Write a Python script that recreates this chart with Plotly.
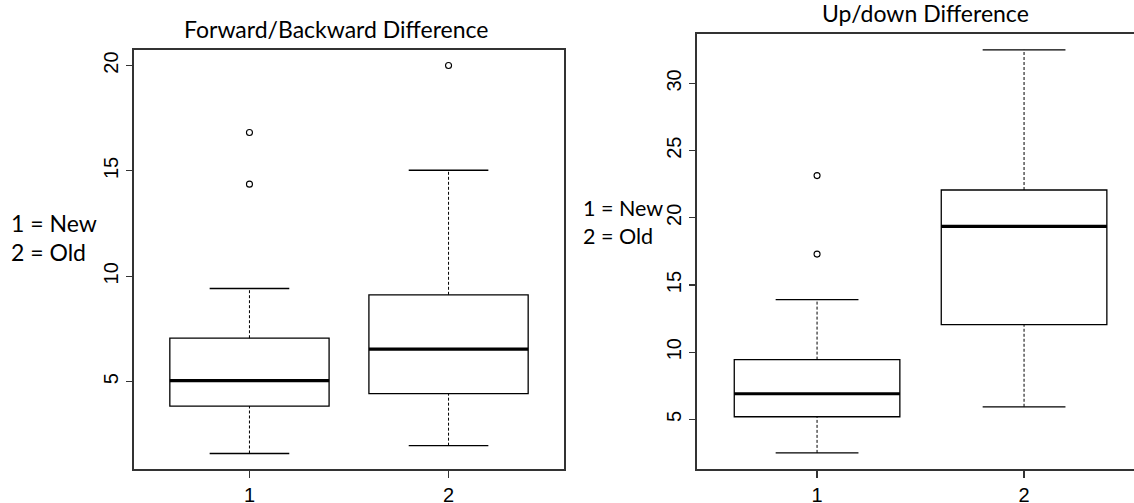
import plotly.graph_objects as go

# ---------------- data ----------------
groups = [1, 2]
group_labels = ["1", "2"]

# Forward/Backward Difference
fb_lower_whisker = [1.59, 1.96]
fb_q1 = [3.84, 4.43]
fb_median = [5.05, 6.54]
fb_q3 = [7.06, 9.12]
fb_upper_whisker = [9.42, 15.03]
fb_outlier_group = [1, 1, 2]
fb_outlier_value = [14.37, 16.82, 20.0]

# Up/down Difference
ud_lower_whisker = [2.51, 5.94]
ud_q1 = [5.2, 12.06]
ud_median = [6.91, 19.36]
ud_q3 = [9.45, 22.07]
ud_upper_whisker = [13.92, 32.5]
ud_outlier_group = [1, 1]
ud_outlier_value = [17.3, 23.14]

fb_ticks = [5, 10, 15, 20]
ud_ticks = [5, 10, 15, 20, 25, 30]

titles = ["Forward/Backward Difference", "Up/down Difference"]
legend_lines = ["1 = New", "2 = Old"]

# ---------------- style ----------------
BOX_W = 0.8
CAP_W = 0.4
FRAME = "#333333"
W, H = 1134, 503


def px(v):
    return v / W


def py(v):
    return 1 - v / H


fig = go.Figure()


def add_panel(sfx, lw, q1, med, q3, uw, ox, oy):
    xa = "x" + sfx
    ya = "y" + sfx
    for i, g in enumerate(groups):
        fig.add_trace(go.Box(
            x=[g], q1=[q1[i]], median=[med[i]], q3=[q3[i]],
            lowerfence=[q1[i]], upperfence=[q3[i]],
            width=BOX_W, fillcolor="white",
            line=dict(color="black", width=1.3),
            boxpoints=False, xaxis=xa, yaxis=ya, showlegend=False,
            hoverinfo="skip"))
        # dashed whiskers
        fig.add_trace(go.Scatter(
            x=[g, g, None, g, g], y=[lw[i], q1[i], None, q3[i], uw[i]],
            mode="lines", line=dict(color="black", width=1, dash="3px,2px"),
            xaxis=xa, yaxis=ya, showlegend=False, hoverinfo="skip"))
        # caps
        fig.add_trace(go.Scatter(
            x=[g - CAP_W / 2, g + CAP_W / 2, None, g - CAP_W / 2, g + CAP_W / 2],
            y=[lw[i], lw[i], None, uw[i], uw[i]],
            mode="lines", line=dict(color="black", width=1.3),
            xaxis=xa, yaxis=ya, showlegend=False, hoverinfo="skip"))
        # thick median
        fig.add_trace(go.Scatter(
            x=[g - BOX_W / 2, g + BOX_W / 2], y=[med[i], med[i]],
            mode="lines", line=dict(color="black", width=3.2),
            xaxis=xa, yaxis=ya, showlegend=False, hoverinfo="skip"))
    fig.add_trace(go.Scatter(
        x=ox, y=oy, mode="markers",
        marker=dict(symbol="circle-open", size=6, color="black",
                    line=dict(width=1.1, color="black")),
        xaxis=xa, yaxis=ya, showlegend=False, hoverinfo="skip"))


add_panel("", fb_lower_whisker, fb_q1, fb_median, fb_q3, fb_upper_whisker,
          fb_outlier_group, fb_outlier_value)
add_panel("2", ud_lower_whisker, ud_q1, ud_median, ud_q3, ud_upper_whisker,
          ud_outlier_group, ud_outlier_value)


def yrange(lw, uw, oy):
    lo = min(lw + oy)
    hi = max(uw + oy)
    pad = (hi - lo) * 0.04
    return [lo - pad, hi + pad]


xr_full = [0.5 - 0.08, len(groups) + 0.5 + 0.08]

axis_font = dict(family="Liberation Sans, Arial, sans-serif", size=20, color="black")

common_x = dict(tickmode="array", tickvals=groups, ticktext=group_labels,
                showgrid=False, zeroline=False, showline=True, mirror=True,
                linecolor=FRAME, linewidth=1.6, ticks="outside", ticklen=7,
                tickcolor=FRAME, tickwidth=1.2, tickfont=axis_font,
                ticklabelstandoff=0, automargin=False)
common_y = dict(showgrid=False, zeroline=False, showline=True,
                linecolor=FRAME, linewidth=1.6, ticks="outside", ticklen=6,
                tickcolor=FRAME, tickwidth=1.2, tickfont=axis_font,
                tickangle=-90, ticklabelstandoff=0, automargin=False)

# right panel is clipped at the page edge
left_px, right_px = 697, W
ud_px_per_unit = 207
ud_xr = [xr_full[0], xr_full[0] + (right_px - left_px) / ud_px_per_unit]

fig.update_layout(
    width=W, height=H,
    margin=dict(l=0, r=0, t=0, b=0, autoexpand=False),
    paper_bgcolor="white", plot_bgcolor="white",
    xaxis=dict(domain=[px(134), px(564)], range=xr_full, anchor="y", **common_x),
    yaxis=dict(domain=[py(469), py(50)],
               range=yrange(fb_lower_whisker, fb_upper_whisker, fb_outlier_value),
               tickvals=fb_ticks, mirror=True, anchor="x", **common_y),
    xaxis2=dict(domain=[px(left_px), 1.0], range=ud_xr, anchor="y2", **common_x),
    yaxis2=dict(domain=[py(469), py(33.7)],
                range=yrange(ud_lower_whisker, ud_upper_whisker, ud_outlier_value),
                tickvals=ud_ticks, mirror=False, anchor="x2", **common_y),
)

title_font = dict(family="Lato, Noto Sans, sans-serif", size=23, color="black")
legend_font_r = dict(family="Lato, Noto Sans, sans-serif", size=21.5, color="black")
fig.add_annotation(text=titles[0], x=px(335.5), y=py(29), xref="paper", yref="paper",
                   xanchor="center", yanchor="middle", showarrow=False, font=title_font)
fig.add_annotation(text=titles[1], x=px(925.5), y=py(12.5), xref="paper", yref="paper",
                   xanchor="center", yanchor="middle", showarrow=False, font=title_font)

for x0, ys, fnt in [(9, (223, 252), title_font), (581, (208, 236), legend_font_r)]:
    for txt, yy in zip(legend_lines, ys):
        fig.add_annotation(text=txt, x=px(x0), y=py(yy), xref="paper", yref="paper",
                           xanchor="left", yanchor="middle", showarrow=False,
                           font=fnt)

fig.write_html("out.html",
               config={"displayModeBar": False, "staticPlot": True},
               post_script="document.body.style.margin='0';document.body.style.overflow='hidden';")
